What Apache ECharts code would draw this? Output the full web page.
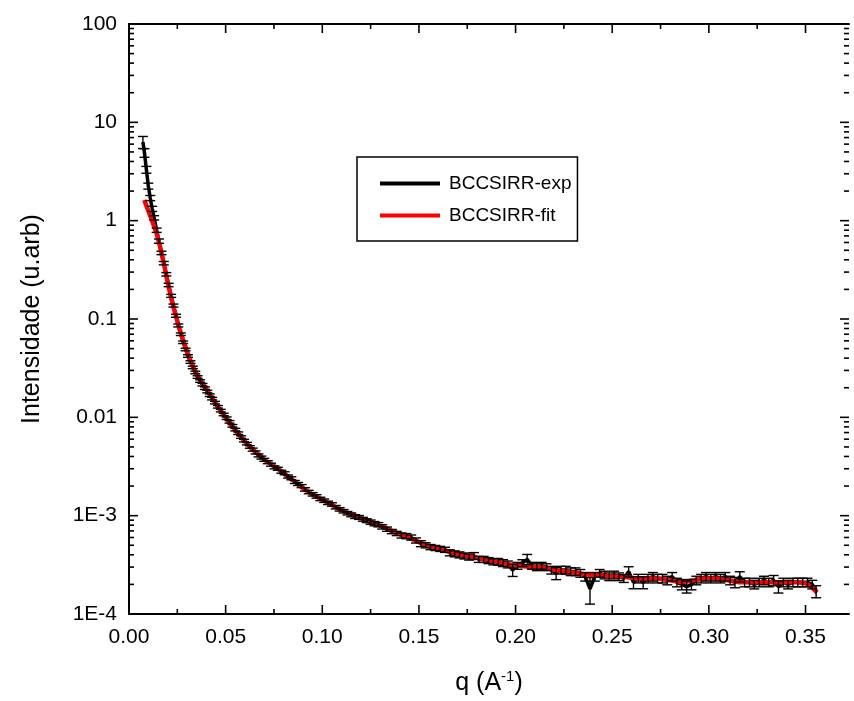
<!DOCTYPE html>
<html>
<head>
<meta charset="utf-8">
<script src="https://cdn.jsdelivr.net/npm/echarts@6/dist/echarts.min.js"></script>
<style>
html,body{margin:0;padding:0;background:#fff;}
#chart{width:854px;height:701px;}
</style>
</head>
<body>
<div id="chart"></div>
<script>
// ---- data ----
const seriesNames = ['BCCSIRR-exp', 'BCCSIRR-fit'];

const qExp = [
  0.0072,0.0080,0.0090,0.0100,0.0110,0.0120,0.0130,0.0143,0.0155,0.0168,
  0.0180,0.0193,0.0205,0.0218,0.0230,0.0243,0.0255,0.0268,0.0280,0.0293,
  0.0305,0.0318,0.0330,0.0343,0.0355,0.0368,0.0380,0.0393,0.0405,0.0418,
  0.0430,0.0445,0.0460,0.0475,0.0490,0.0505,0.0520,0.0535,0.0550,0.0565,
  0.0580,0.0595,0.0610,0.0625,0.0640,0.0655,0.0670,0.0685,0.0700,0.0718,
  0.0735,0.0753,0.0770,0.0788,0.0805,0.0823,0.0840,0.0858,0.0875,0.0893,
  0.0910,0.0930,0.0950,0.0970,0.0990,0.1010,0.1030,0.1050,0.1070,0.1090,
  0.1110,0.1130,0.1150,0.1170,0.1190,0.1210,0.1230,0.1250,0.1270,0.1290,
  0.1310,0.1335,0.1360,0.1385,0.1410,0.1435,0.1460,0.1485,0.1510,0.1535,
  0.1560,0.1585,0.1610,0.1635,0.1660,0.1685,0.1710,0.1735,0.1760,0.1785,
  0.1810,0.1835,0.1860,0.1885,0.1910,0.1935,0.1960,0.1985,0.2010,0.2035,
  0.2060,0.2085,0.2110,0.2135,0.2160,0.2185,0.2210,0.2235,0.2260,0.2285,
  0.2310,0.2335,0.2360,0.2385,0.2410,0.2435,0.2460,0.2485,0.2510,0.2535,
  0.2560,0.2585,0.2610,0.2635,0.2660,0.2685,0.2710,0.2735,0.2760,0.2785,
  0.2810,0.2835,0.2860,0.2885,0.2910,0.2935,0.2960,0.2985,0.3010,0.3035,
  0.3060,0.3085,0.3110,0.3135,0.3160,0.3185,0.3210,0.3235,0.3260,0.3285,
  0.3310,0.3335,0.3360,0.3385,0.3410,0.3435,0.3460,0.3485,0.3510,0.3535,
  0.3555
];
const iExp = [
  6.3,4.9,3.3,2.25,1.7,1.32,1.07,0.80,0.62,0.47,
  0.37,0.285,0.222,0.172,0.137,0.108,0.086,0.070,0.058,0.049,
  0.042,0.0365,0.0322,0.0286,0.0257,0.0234,0.0215,0.0198,0.0183,0.0168,
  0.0155,0.0141,0.0128,0.0117,0.0107,0.0098,0.0090,0.0082,0.0075,0.0069,
  0.0063,0.0058,0.0054,0.0050,0.0047,0.0044,0.0041,0.0039,0.0037,0.0035,
  0.0033,0.0031,0.0030,0.0028,0.0027,0.0025,0.0024,0.0022,0.0021,0.0020,
  0.00185,0.00174,0.00165,0.00157,0.00148,0.00142,0.00135,0.00130,0.00122,0.00116,
  0.00111,0.00106,0.00102,0.00098,0.00096,0.00092,0.00089,0.00086,0.00083,0.00081,
  0.00077,0.00073,0.00069,0.00066,0.00063,0.00062,0.00060,0.00056,0.00052,0.00050,
  0.00048,0.00047,0.00046,0.00045,0.00042,0.00041,0.00040,0.00039,0.00038,0.00039,
  0.00036,0.00036,0.00035,0.00034,0.00034,0.00033,0.00032,0.00028,0.00031,0.00033,
  0.00036,0.00031,0.00030,0.00031,0.00030,0.00028,0.00026,0.00028,0.00028,0.00027,
  0.00027,0.00026,0.00024,0.00018,0.00024,0.00026,0.00025,0.00024,0.00025,0.00024,
  0.00023,0.00027,0.00021,0.00023,0.00021,0.00023,0.00024,0.00023,0.00023,0.00022,
  0.00024,0.00021,0.00020,0.00019,0.00020,0.00022,0.00023,0.00024,0.00023,0.00024,
  0.00023,0.00024,0.00022,0.00021,0.00024,0.00021,0.00021,0.00020,0.00021,0.00022,
  0.00021,0.00022,0.00019,0.00021,0.00020,0.00021,0.00021,0.00021,0.00021,0.00020,
  0.00017
];
// relative uncertainty of each experimental point
const relErrExp = [
  0.14,0.10,0.08,0.07,0.06,0.06,0.05,0.05,0.05,0.04,
  0.04,0.04,0.04,0.035,0.035,0.035,0.035,0.03,0.03,0.03,
  0.03,0.03,0.03,0.03,0.03,0.03,0.03,0.03,0.03,0.03,
  0.03,0.03,0.03,0.03,0.03,0.03,0.03,0.03,0.03,0.03,
  0.03,0.03,0.03,0.03,0.035,0.035,0.035,0.035,0.035,0.035,
  0.035,0.035,0.035,0.035,0.035,0.035,0.035,0.035,0.035,0.035,
  0.04,0.04,0.04,0.04,0.04,0.04,0.04,0.04,0.04,0.04,
  0.04,0.04,0.045,0.045,0.045,0.045,0.045,0.05,0.05,0.05,
  0.05,0.05,0.05,0.05,0.06,0.06,0.06,0.06,0.07,0.06,
  0.06,0.06,0.06,0.06,0.07,0.07,0.07,0.07,0.07,0.08,
  0.07,0.07,0.07,0.07,0.08,0.08,0.08,0.14,0.08,0.08,
  0.12,0.08,0.08,0.08,0.08,0.09,0.14,0.09,0.09,0.09,
  0.09,0.09,0.10,0.30,0.10,0.09,0.09,0.09,0.09,0.09,
  0.09,0.12,0.14,0.10,0.14,0.10,0.10,0.10,0.10,0.10,
  0.10,0.10,0.12,0.14,0.12,0.10,0.10,0.10,0.10,0.10,
  0.10,0.10,0.10,0.12,0.12,0.10,0.10,0.10,0.10,0.10,
  0.10,0.12,0.14,0.10,0.10,0.10,0.10,0.10,0.10,0.10,
  0.14
];

const qFit = [
  0.0079,0.0090,0.0100,0.0110,0.0120,0.0130,0.0145,0.0160,0.0180,0.0200,
  0.0220,0.0240,0.0260,0.0280,0.0300,0.0320,0.0340,0.0360,0.0380,0.0400,
  0.0430,0.0460,0.0490,0.0520,0.0550,0.0580,0.0610,0.0640,0.0670,0.0700,
  0.0740,0.0780,0.0820,0.0860,0.0900,0.0950,0.1000,0.1060,0.1120,0.1180,
  0.1240,0.1300,0.1360,0.1420,0.1480,0.1540,0.1600,0.1660,0.1720,0.1780,
  0.1840,0.1900,0.1960,0.2020,0.2080,0.2140,0.2200,0.2260,0.2320,0.2380,
  0.2440,0.2500,0.2560,0.2620,0.2680,0.2740,0.2800,0.2860,0.2920,0.2980,
  0.3040,0.3100,0.3160,0.3220,0.3280,0.3340,0.3400,0.3460,0.3500,0.3530,
  0.3560
];
const iFit = [
  1.62,1.42,1.26,1.12,0.99,0.87,0.72,0.55,0.37,0.235,
  0.158,0.112,0.081,0.061,0.047,0.037,0.030,0.0255,0.0222,0.0193,
  0.0158,0.0128,0.0106,0.0088,0.0074,0.0063,0.0054,0.0047,0.0042,0.0037,
  0.0033,0.0029,0.0025,0.0022,0.0019,0.00164,0.00145,0.00125,0.00109,0.00098,
  0.00088,0.00079,0.00070,0.00063,0.00056,0.00050,0.00046,0.00043,0.00040,0.00038,
  0.00036,0.00034,0.00032,0.00031,0.00030,0.00030,0.00028,0.00027,0.00026,0.00025,
  0.00025,0.00024,0.00024,0.00023,0.00023,0.00023,0.00022,0.00021,0.00022,0.00023,
  0.00023,0.00022,0.00021,0.00021,0.00021,0.00021,0.00021,0.00021,0.000205,0.00019,
  0.000165
];

// axis ranges and tick values
const xMin = 0, xMax = 0.3725, xStep = 0.05;
const yMin = 1e-4, yMax = 100;
const xMajorTicks = [0, 0.05, 0.10, 0.15, 0.20, 0.25, 0.30, 0.35];
const xMinorTicks = [0.025, 0.075, 0.125, 0.175, 0.225, 0.275, 0.325];
const yMajorTicks = [1e-4, 1e-3, 1e-2, 1e-1, 1, 10, 100];
const yMinorMultipliers = [2, 3, 4, 5, 6, 7, 8, 9];

// ---- build ----
const FONT = '"Liberation Sans", Arial, sans-serif';
const expLine = qExp.map((q, i) => [q, iExp[i]]);
const expErr = qExp.map((q, i) => [q, iExp[i], iExp[i] * relErrExp[i]]);
const fitLine = qFit.map((q, i) => [q, iFit[i]]);

// tick marks: [x, y, kind]  kind 0 = x major, 1 = x minor, 2 = y major, 3 = y minor
const tickMarks = [];
xMajorTicks.forEach(v => tickMarks.push([v, yMin, 0]));
xMinorTicks.forEach(v => tickMarks.push([v, yMin, 1]));
yMajorTicks.forEach(v => tickMarks.push([xMin, v, 2]));
yMajorTicks.slice(0, -1).forEach(d => yMinorMultipliers.forEach(m => tickMarks.push([xMin, m * d, 3])));

function yLabel(v) {
  const e = Math.round(Math.log10(v));
  if (e >= 0) return String(Math.pow(10, e));
  if (e >= -2) return Math.pow(10, e).toFixed(-e);
  return '1E' + e;
}

const chart = echarts.init(document.getElementById('chart'), null, {renderer: 'canvas'});
const axisLineStyle = {color: '#000', width: 2};
chart.setOption({
  animation: false,
  backgroundColor: '#fff',
  grid: {left: 129, right: 5, top: 24, bottom: 87, containLabel: false},
  legend: {
    orient: 'vertical',
    left: 357, top: 157,
    itemWidth: 60, itemHeight: 4, itemGap: 13,
    padding: [17, 6, 16, 23],
    borderColor: '#000', borderWidth: 1.5,
    textStyle: {fontFamily: FONT, fontSize: 19, color: '#000', padding: [0, 0, 0, 4]},
    data: [{name: seriesNames[0], icon: 'rect'}, {name: seriesNames[1], icon: 'rect'}]
  },
  xAxis: [{
    type: 'value', min: xMin, max: xMax, interval: xStep,
    position: 'bottom',
    name: '{a|q (A}{s|-1}{a|)}', nameLocation: 'middle', nameGap: 55,
    nameTextStyle: {
      rich: {
        a: {fontFamily: FONT, fontSize: 25, color: '#000'},
        s: {fontFamily: FONT, fontSize: 15, color: '#000', padding: [0, 0, 13, 0]}
      }
    },
    axisLine: {show: true, lineStyle: axisLineStyle},
    axisTick: {show: false},
    minorTick: {show: false},
    axisLabel: {fontFamily: FONT, fontSize: 21, color: '#000', margin: 13, showMaxLabel: false,
      formatter: v => v > 0.36 ? '' : v.toFixed(2)},
    splitLine: {show: false}
  }, {
    type: 'value', min: xMin, max: xMax, interval: xStep,
    position: 'top',
    axisLine: {show: true, lineStyle: axisLineStyle},
    axisTick: {show: false},
    axisLabel: {show: false},
    splitLine: {show: false}
  }],
  yAxis: [{
    type: 'log', logBase: 10, min: yMin, max: yMax, splitNumber: 6,
    position: 'left',
    name: 'Intensidade (u.arb)', nameLocation: 'middle', nameGap: 84,
    nameTextStyle: {fontFamily: FONT, fontSize: 25, color: '#000'},
    axisLine: {show: true, lineStyle: axisLineStyle},
    axisTick: {show: false},
    minorTick: {show: false},
    axisLabel: {fontFamily: FONT, fontSize: 21, color: '#000', margin: 12, formatter: yLabel},
    splitLine: {show: false}
  }, {
    type: 'log', logBase: 10, min: yMin, max: yMax, splitNumber: 6,
    position: 'right',
    axisLine: {show: true, lineStyle: axisLineStyle},
    axisTick: {show: false},
    axisLabel: {show: false},
    splitLine: {show: false}
  }],
  series: [
    {
      name: seriesNames[0], type: 'line', data: expLine,
      xAxisIndex: 0, yAxisIndex: 0,
      showSymbol: false, symbol: 'none', color: '#000',
      lineStyle: {color: '#000', width: 3.5}, z: 2
    },
    {
      name: seriesNames[1], type: 'line', data: fitLine,
      xAxisIndex: 0, yAxisIndex: 0,
      showSymbol: false, symbol: 'none', color: '#ff0000',
      lineStyle: {color: '#ff0000', width: 4.5}, z: 3
    },
    {
      name: 'err', type: 'custom', data: expErr,
      xAxisIndex: 0, yAxisIndex: 0, z: 4, silent: true,
      encode: {x: 0, y: 1},
      renderItem: function (params, api) {
        const x = api.value(0), y = api.value(1), d = api.value(2);
        const lo = Math.max(y - d, 1e-6);
        const top = api.coord([x, y + d]);
        const bot = api.coord([x, lo]);
        const hw = 5;
        const st = {stroke: '#000', lineWidth: 1.4};
        return {type: 'group', children: [
          {type: 'line', shape: {x1: top[0], y1: top[1], x2: bot[0], y2: bot[1]}, style: st},
          {type: 'line', shape: {x1: top[0] - hw, y1: top[1], x2: top[0] + hw, y2: top[1]}, style: st},
          {type: 'line', shape: {x1: bot[0] - hw, y1: bot[1], x2: bot[0] + hw, y2: bot[1]}, style: st}
        ]};
      }
    },
    {
      name: 'ticks', type: 'custom', data: tickMarks,
      xAxisIndex: 0, yAxisIndex: 0, z: 5, silent: true,
      encode: {x: 0, y: 1}, clip: false,
      renderItem: function (params, api) {
        const kind = api.value(2);
        const p = api.coord([api.value(0), api.value(1)]);
        const cs = params.coordSys;
        const st = {stroke: '#000', lineWidth: 1.6};
        const len = (kind === 0 || kind === 2) ? 9 : 5;
        if (kind < 2) {
          const yb = cs.y + cs.height, yt = cs.y;
          return {type: 'group', children: [
            {type: 'line', shape: {x1: p[0], y1: yb, x2: p[0], y2: yb - len}, style: st},
            {type: 'line', shape: {x1: p[0], y1: yt, x2: p[0], y2: yt + len}, style: st}
          ]};
        }
        const xl = cs.x, xr = cs.x + cs.width;
        return {type: 'group', children: [
          {type: 'line', shape: {x1: xl, y1: p[1], x2: xl + len, y2: p[1]}, style: st},
          {type: 'line', shape: {x1: xr - len, y1: p[1], x2: xr, y2: p[1]}, style: st}
        ]};
      }
    }
  ]
});
</script>
</body>
</html>
